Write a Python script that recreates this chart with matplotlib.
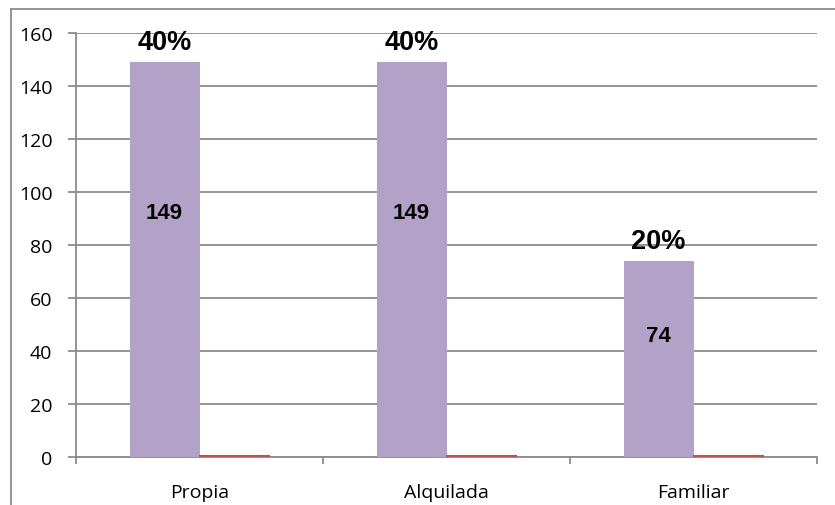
import matplotlib
matplotlib.use("Agg")
import matplotlib.pyplot as plt
from matplotlib.lines import Line2D
import numpy as np

# Tenencia de la vivienda
categories = ["Propia", "Alquilada", "Familiar"]
counts = [149, 149, 74]
shares = [0.40, 0.40, 0.20]
y_ticks = [0, 20, 40, 60, 80, 100, 120, 140, 160]

purple = "#B3A2C7"
red = "#C0504D"
grid_gray = "#8C8C8C"

fig = plt.figure(figsize=(8.35, 5.06), dpi=100)
ax = fig.add_axes([76 / 835, 48 / 506, (817 - 76) / 835, (458 - 34) / 506])

x = np.arange(len(categories))
w = 0.283
ax.bar(x - w / 2, counts, width=w, color=purple, zorder=3)
ax.bar(x + w / 2, shares, width=w, color=red, edgecolor=red, linewidth=1.5, zorder=3)

ax.set_xlim(-0.5, len(categories) - 0.5)
ax.set_ylim(0, 160)
ax.set_yticks(y_ticks)
ax.yaxis.grid(True, color=grid_gray, linewidth=1.3, zorder=0)
ax.set_axisbelow(True)

for s in ["top", "right"]:
    ax.spines[s].set_visible(False)
for s in ["left", "bottom"]:
    ax.spines[s].set_color(grid_gray)
    ax.spines[s].set_linewidth(1.3)

tick_font = dict(family=["Open Sans", "DejaVu Sans"], size=14)
ax.tick_params(axis="y", direction="out", length=6, width=1.3, color=grid_gray, pad=11)
for lbl in ax.get_yticklabels():
    lbl.set_fontfamily(tick_font["family"])
    lbl.set_fontsize(tick_font["size"])

ax.set_xticks(x)
ax.set_xticklabels(categories, **tick_font)
ax.tick_params(axis="x", which="major", length=0, pad=19)
ax.set_xticks(np.arange(-0.5, len(categories), 1.0), minor=True)
ax.tick_params(axis="x", which="minor", direction="out", length=5, width=1.3, color=grid_gray)

bold = dict(family=["Liberation Sans", "DejaVu Sans"], weight="bold", color="black")
for xi, v, p in zip(x, counts, shares):
    ax.text(xi - w / 2, v * 0.62, f"{v}", ha="center", va="center", fontsize=16, **bold, zorder=5)
    ax.annotate(f"{p:.0%}", xy=(xi - w / 2, v), xytext=(0, 5), textcoords="offset points",
                ha="center", va="bottom", fontsize=19.5, **bold, zorder=5)

# chart area frame (top and left edges)
fig.add_artist(Line2D([11 / 835, 11 / 835], [0, 1 - 10 / 506], transform=fig.transFigure,
                      color=grid_gray, linewidth=1.3))
fig.add_artist(Line2D([11 / 835, 1], [1 - 10 / 506, 1 - 10 / 506], transform=fig.transFigure,
                      color=grid_gray, linewidth=1.3))

fig.savefig("out.png", dpi=100)
